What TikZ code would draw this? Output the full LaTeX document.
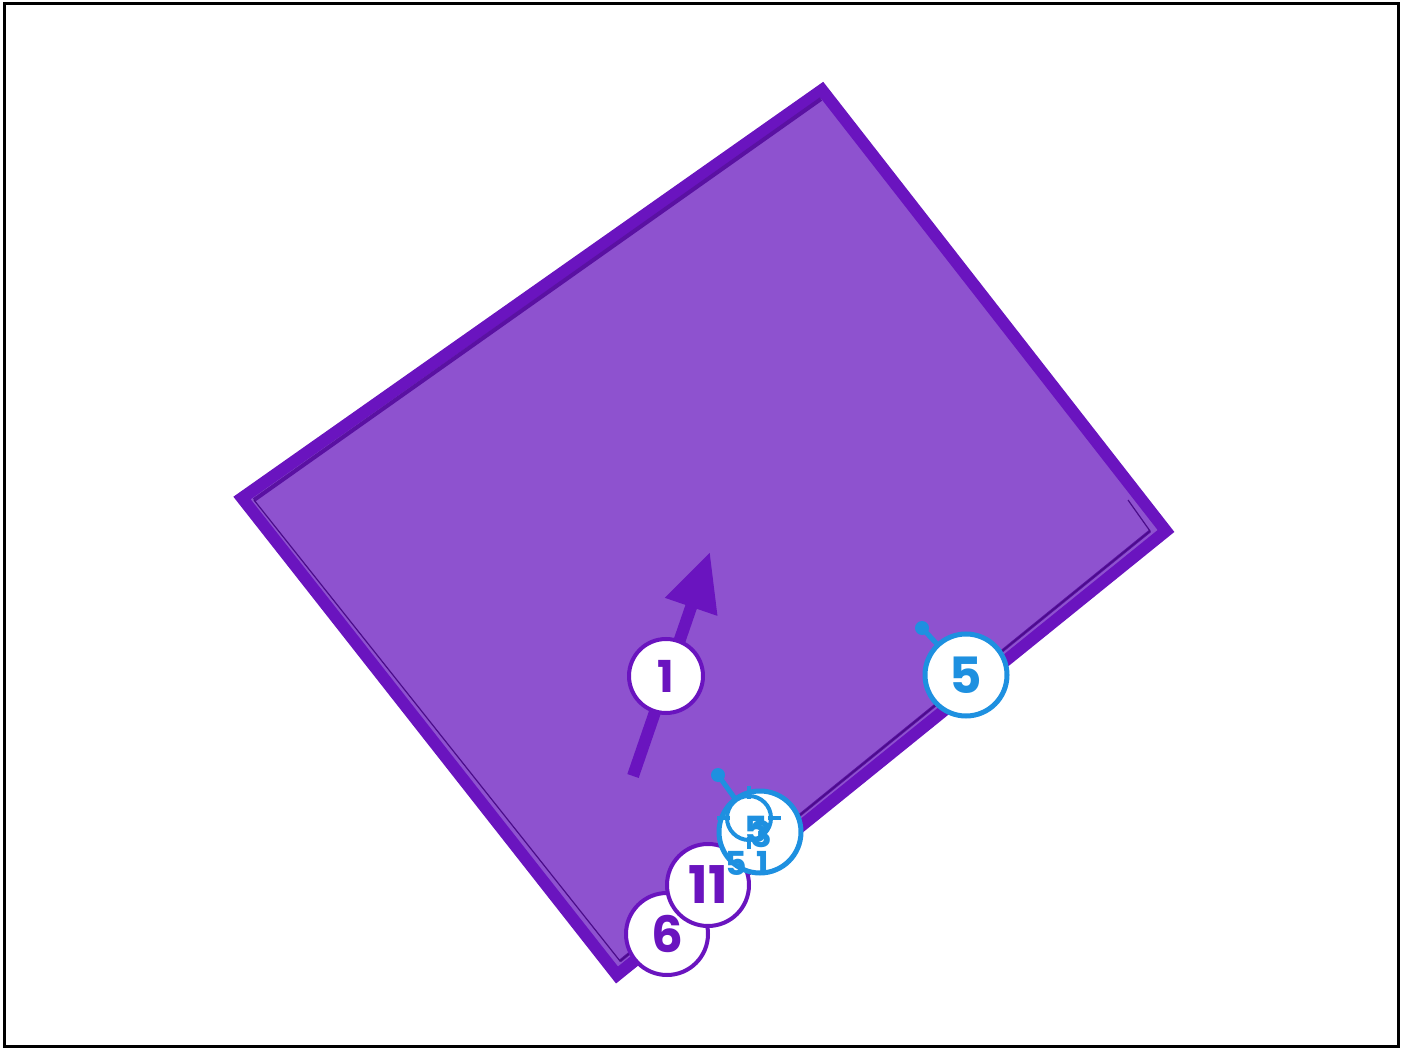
\documentclass[tikz,border=0pt]{standalone}
\usepackage{fontspec}
\setmainfont{Poppins}
\usetikzlibrary{arrows.meta}
\definecolor{pur}{HTML}{6A14BF}
\definecolor{purfill}{HTML}{8E52CF}
\definecolor{purdark}{HTML}{4A0C8A}
\definecolor{blu}{HTML}{1E90E0}
\tikzset{
  pmark/.style={circle,draw=pur,fill=white,line width=4pt,text=pur,font=\bfseries\fontsize{44}{44}\selectfont,inner sep=0pt},
  bmark/.style={circle,draw=blu,fill=white,line width=5pt,text=blu,font=\bfseries\fontsize{50}{50}\selectfont,inner sep=0pt},
  btxt/.style={text=blu,font=\bfseries\fontsize{36}{36}\selectfont,inner sep=0pt},
  stxt/.style={text=blu,font=\bfseries\fontsize{33}{33}\selectfont,inner sep=0pt},
}
\begin{document}
\begin{tikzpicture}[x=1pt,y=-1pt]
\useasboundingbox (0,0) rectangle (1406,1048);
\draw[black,line width=3pt] (4,4) rectangle (1398,1046);
% polygon
\coordinate (t) at (822,90);
\coordinate (l) at (242,498);
\coordinate (b) at (617,975);
\coordinate (r) at (1166,531);
\filldraw[fill=purfill,draw=pur,line width=12pt,line join=miter] (t) -- (l) -- (b) -- (r) -- cycle;
\coordinate (it) at (821,99);
\coordinate (il) at (254,500);
\coordinate (ib) at (620,961);
\coordinate (ir) at (1150,531);
\draw[pur!85!black,line width=4pt] (il) -- (it);
\draw[pur!85!black,line width=3pt] (ib) -- (ir);
\draw[purdark,line width=1.2pt] (il) -- (ib) -- (ir) -- (1128,500);
% arrow
\coordinate (as) at (633,776);
\coordinate (ae) at (710,552);
\draw[pur,line width=12pt,-{Triangle[length=58pt,width=52pt]}] (as) -- (ae);
\node[pmark,minimum size=74pt] (m1) at (666,676) {1};
% blue 5
\node[bmark,minimum size=82pt] (m5) at (966,675) {5};
\fill[blu] (922,628) circle (7pt) coordinate (p5);
\draw[blu,line width=5pt] (p5) -- (m5);
% purple 6 and 11
\node[pmark,minimum size=82pt,font=\bfseries\fontsize{50}{50}\selectfont] (m6) at (667,934) {6};
\node[pmark,minimum size=82pt,font=\bfseries\fontsize{52}{52}\selectfont] (m11) at (708,885) {11};
% blue stacked marker
\node[bmark,minimum size=82pt] (mb) at (760,832) {};
\node[btxt] (t5) at (756,829) {5};
\node[btxt] (t3) at (761,834) {3};
\coordinate (cc) at (749,818);
\draw[blu,line width=4pt] (cc) circle (22pt);
\draw[blu,line width=4pt] (749,786) -- (749,799) (749,837) -- (749,849) (717,818) -- (730,818) (768,818) -- (781,818);
\fill[blu] (718,775) circle (7pt) coordinate (pb);
\draw[blu,line width=5pt] (pb) -- (736,800);
\node[stxt] (s5) at (736,863) {5};
\node[stxt] (s1) at (763,863) {1};
\end{tikzpicture}
\end{document}
